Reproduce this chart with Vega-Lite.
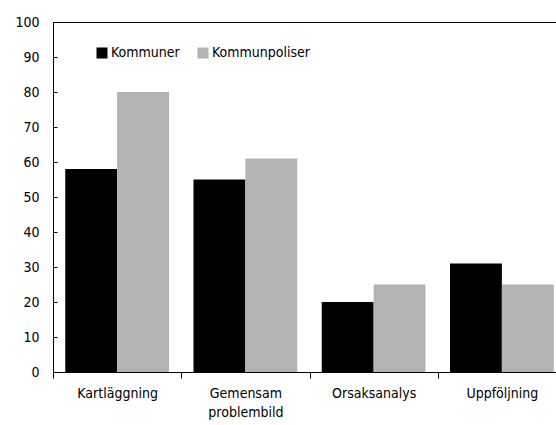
{
  "$schema": "https://vega.github.io/schema/vega-lite/v6.json",
  "width": 513,
  "height": 350,
  "autosize": {"type": "none"},
  "padding": {"left": 53, "top": 22, "right": 0, "bottom": 53},
  "background": "white",
  "config": {
    "font": "DejaVu Sans Condensed, Roboto, sans-serif",
    "view": {"stroke": "black", "strokeWidth": 1},
    "axis": {"labelFont": "DejaVu Sans Condensed, Roboto, sans-serif", "labelFontSize": 14, "labelColor": "black", "domainColor": "black", "tickColor": "black", "grid": false}
  },
  "data": {
    "values": [
      {"kategori": "Kartläggning", "grupp": "Kommuner", "andel": 58},
      {"kategori": "Kartläggning", "grupp": "Kommunpoliser", "andel": 80},
      {"kategori": "Gemensam problembild", "grupp": "Kommuner", "andel": 55},
      {"kategori": "Gemensam problembild", "grupp": "Kommunpoliser", "andel": 61},
      {"kategori": "Orsaksanalys", "grupp": "Kommuner", "andel": 20},
      {"kategori": "Orsaksanalys", "grupp": "Kommunpoliser", "andel": 25},
      {"kategori": "Uppföljning", "grupp": "Kommuner", "andel": 31},
      {"kategori": "Uppföljning", "grupp": "Kommunpoliser", "andel": 25}
    ]
  },
  "mark": {"type": "bar"},
  "encoding": {
    "x": {
      "field": "kategori", "type": "nominal", "sort": null, "title": null,
      "scale": {"paddingInner": 0, "paddingOuter": 0},
      "axis": {"labelAngle": 0, "tickBand": "extent", "tickSize": 6, "labelPadding": 8, "labelLineHeight": 19,
               "labelExpr": "datum.label == 'Gemensam problembild' ? ['Gemensam', 'problembild'] : datum.label"}
    },
    "xOffset": {"field": "grupp", "type": "nominal", "scale": {"paddingInner": 0, "paddingOuter": 0.236}},
    "y": {
      "field": "andel", "type": "quantitative", "title": null,
      "scale": {"domain": [0, 100], "nice": false},
      "axis": {"values": [0,10,20,30,40,50,60,70,80,90,100], "tickSize": -4, "labelPadding": 18}
    },
    "color": {
      "field": "grupp", "type": "nominal", "title": null,
      "scale": {"domain": ["Kommuner", "Kommunpoliser"], "range": ["#000000", "#b3b3b3"]},
      "legend": {"orient": "none", "legendX": 42, "legendY": 24, "direction": "horizontal",
                 "symbolType": "square", "symbolSize": 121, "symbolStrokeWidth": 0, "symbolOpacity": 1,
                 "labelFont": "DejaVu Sans Condensed, Roboto, sans-serif", "labelFontSize": 14, "labelColor": "black",
                 "labelOffset": 2, "columnPadding": 16}
    }
  }
}
